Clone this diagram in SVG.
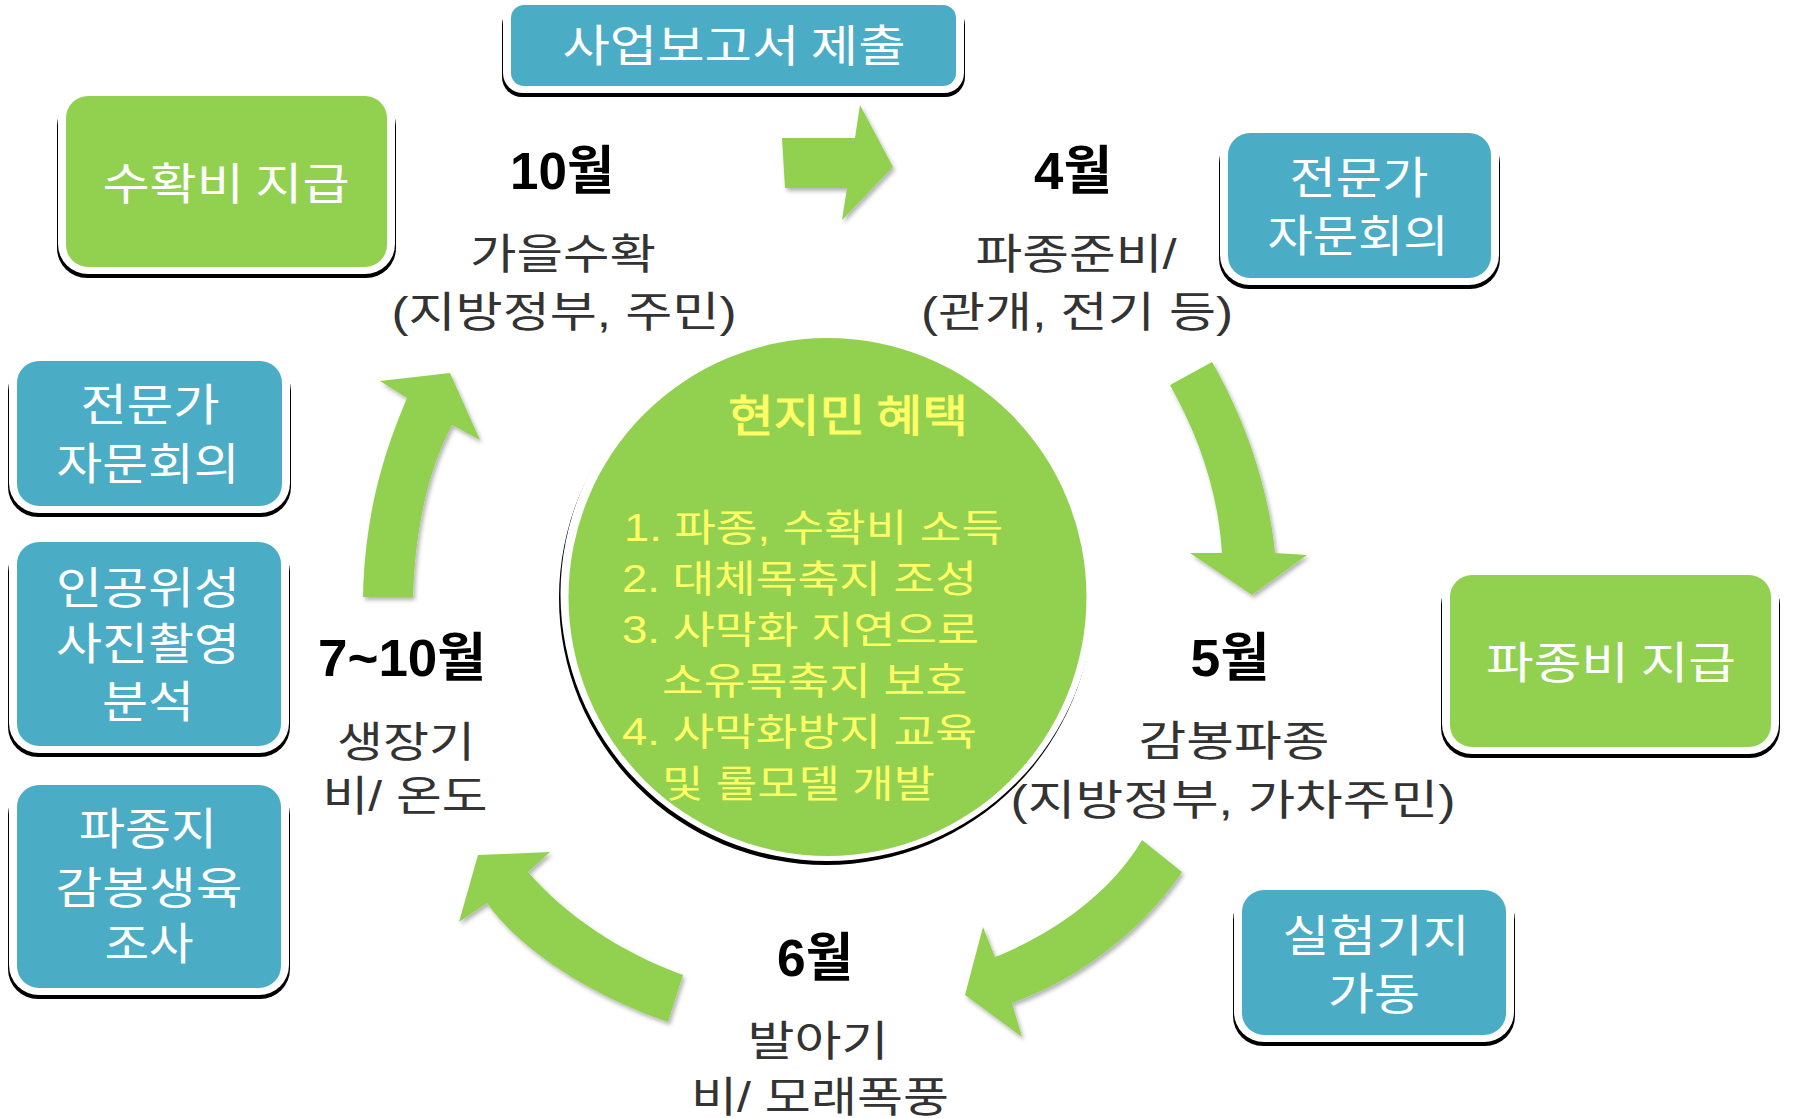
<svg xmlns="http://www.w3.org/2000/svg" width="1793" height="1118" viewBox="0 0 1793 1118">
<style>
.sh{fill:#000}
.rim{fill:#fff}
.blue{fill:#4BACC6}
.green{fill:#92D050}
.tb{font-family:"Noto Sans CJK KR","Noto Sans",sans-serif;font-size:44px;fill:#fff;text-anchor:middle}
.tm{font-family:"Liberation Sans","Noto Sans CJK KR",sans-serif;font-weight:bold;font-size:52px;fill:#000;text-anchor:middle}
.ts{font-family:"Liberation Sans","Noto Sans CJK KR",sans-serif;font-size:42px;fill:#333;text-anchor:middle}
.tt{font-family:"Noto Sans CJK KR",sans-serif;font-weight:normal;font-size:44px;fill:#FFFF66;stroke:#FFFF66;stroke-width:1;text-anchor:middle}
.tl{font-family:"Liberation Sans","Noto Sans CJK KR",sans-serif;font-size:38px;fill:#FFFF66}
.arrow{fill:#92D050;filter:url(#ds)}
</style>
<defs>
<filter id="ds" x="-20%" y="-20%" width="140%" height="140%">
<feDropShadow dx="2" dy="3" stdDeviation="2" flood-color="#000" flood-opacity="0.3"/>
</filter>
</defs>
<rect width="1793" height="1118" fill="#fff"/>

<g id="connectors">
<path class="arrow" d="M782,138 L855,138 L860,105 L893,167 L842,220 L847,188 L785,188 Z"/>
<path class="arrow" d="M1170,385 L1212,362 C1240,410 1268,480 1275,553 L1307,555 L1252,595 L1190,553 L1222,553 C1218,490 1198,435 1170,385 Z"/>
<path class="arrow" d="M1142,840 L1182,872 C1150,920 1090,975 1012,1003 L1022,1037 L965,995 L983,927 L995,957 C1050,935 1110,895 1142,840 Z"/>
<path class="arrow" d="M668,1022 L683,975 C620,952 565,915 528,872 L550,852 L478,855 L459,922 L487,903 C520,950 590,995 668,1022 Z"/>
<path class="arrow" d="M363,597 L413,597 C415,530 428,470 452,425 L480,440 L450,373 L380,381 L407,398 C385,450 365,510 363,597 Z"/>
</g>

<g id="center-benefits">
<circle class="sh" cx="826" cy="598" r="267"/>
<circle class="rim" cx="827.5" cy="594" r="267"/>
<circle class="green" cx="827.5" cy="597" r="259"/>
<text class="tt" x="848" y="432" textLength="240" lengthAdjust="spacingAndGlyphs">현지민 혜택</text>
<text class="tl" x="624" y="541" textLength="379" lengthAdjust="spacingAndGlyphs">1. 파종, 수확비 소득</text>
<text class="tl" x="622" y="592" textLength="355" lengthAdjust="spacingAndGlyphs">2. 대체목축지 조성</text>
<text class="tl" x="622" y="643" textLength="357" lengthAdjust="spacingAndGlyphs">3. 사막화 지연으로</text>
<text class="tl" x="662" y="694" textLength="305" lengthAdjust="spacingAndGlyphs">소유목축지 보호</text>
<text class="tl" x="622" y="745" textLength="355" lengthAdjust="spacingAndGlyphs">4. 사막화방지 교육</text>
<text class="tl" x="662" y="797" textLength="273" lengthAdjust="spacingAndGlyphs">및 롤모델 개발</text>
</g>

<g id="box-report">
<rect class="sh" x="502" y="5" width="463" height="92" rx="20"/>
<rect class="rim" x="503" y="-3" width="461" height="96" rx="20"/>
<rect class="blue" x="511" y="5" width="445" height="81" rx="13"/>
<text class="tb" x="734" y="62" textLength="343" lengthAdjust="spacingAndGlyphs">사업보고서 제출</text>
</g>

<g id="box-harvest-pay">
<rect class="sh" x="57" y="96" width="339" height="182" rx="30"/>
<rect class="rim" x="58" y="88" width="337" height="186" rx="30"/>
<rect class="green" x="66" y="96" width="321" height="171" rx="22"/>
<text class="tb" x="226" y="200" textLength="247" lengthAdjust="spacingAndGlyphs">수확비 지급</text>
</g>

<g id="box-expert-tr">
<rect class="sh" x="1219" y="133" width="281" height="156" rx="30"/>
<rect class="rim" x="1220" y="125" width="279" height="160" rx="30"/>
<rect class="blue" x="1228" y="133" width="263" height="145" rx="22"/>
<text class="tb" x="1359" y="194" textLength="139" lengthAdjust="spacingAndGlyphs">전문가</text>
<text class="tb" x="1358" y="252" textLength="181" lengthAdjust="spacingAndGlyphs">자문회의</text>
</g>

<g id="box-expert-l">
<rect class="sh" x="8" y="361" width="283" height="156" rx="30"/>
<rect class="rim" x="9" y="353" width="281" height="160" rx="30"/>
<rect class="blue" x="17" y="361" width="265" height="145" rx="22"/>
<text class="tb" x="150" y="421" textLength="139" lengthAdjust="spacingAndGlyphs">전문가</text>
<text class="tb" x="148" y="480" textLength="183" lengthAdjust="spacingAndGlyphs">자문회의</text>
</g>

<g id="box-satellite">
<rect class="sh" x="8" y="542" width="282" height="215" rx="30"/>
<rect class="rim" x="9" y="534" width="280" height="219" rx="30"/>
<rect class="blue" x="17" y="542" width="264" height="204" rx="22"/>
<text class="tb" x="148" y="604" textLength="184" lengthAdjust="spacingAndGlyphs">인공위성</text>
<text class="tb" x="148" y="660" textLength="184" lengthAdjust="spacingAndGlyphs">사진촬영</text>
<text class="tb" x="148" y="718" textLength="92" lengthAdjust="spacingAndGlyphs">분석</text>
</g>

<g id="box-survey">
<rect class="sh" x="8" y="785" width="282" height="214" rx="30"/>
<rect class="rim" x="9" y="777" width="280" height="218" rx="30"/>
<rect class="blue" x="17" y="785" width="264" height="203" rx="22"/>
<text class="tb" x="148" y="845" textLength="138" lengthAdjust="spacingAndGlyphs">파종지</text>
<text class="tb" x="149" y="904" textLength="187" lengthAdjust="spacingAndGlyphs">감봉생육</text>
<text class="tb" x="149" y="960" textLength="89" lengthAdjust="spacingAndGlyphs">조사</text>
</g>

<g id="box-sowing-pay">
<rect class="sh" x="1441" y="575" width="339" height="183" rx="30"/>
<rect class="rim" x="1442" y="567" width="337" height="187" rx="30"/>
<rect class="green" x="1450" y="575" width="321" height="172" rx="22"/>
<text class="tb" x="1611" y="679" textLength="250" lengthAdjust="spacingAndGlyphs">파종비 지급</text>
</g>

<g id="box-base">
<rect class="sh" x="1233" y="890" width="282" height="156" rx="30"/>
<rect class="rim" x="1234" y="882" width="280" height="160" rx="30"/>
<rect class="blue" x="1242" y="890" width="264" height="145" rx="22"/>
<text class="tb" x="1376" y="952" textLength="187" lengthAdjust="spacingAndGlyphs">실험기지</text>
<text class="tb" x="1374" y="1010" textLength="92" lengthAdjust="spacingAndGlyphs">가동</text>
</g>

<g id="stage-oct">
<text class="tm" x="562" y="189" textLength="104" lengthAdjust="spacingAndGlyphs">10월</text>
<text class="ts" x="563" y="269" textLength="186" lengthAdjust="spacingAndGlyphs">가을수확</text>
<text class="ts" x="564" y="327" textLength="345" lengthAdjust="spacingAndGlyphs">(지방정부, 주민)</text>
</g>

<g id="stage-apr">
<text class="tm" x="1073" y="189" textLength="78" lengthAdjust="spacingAndGlyphs">4월</text>
<text class="ts" x="1076" y="269" textLength="201" lengthAdjust="spacingAndGlyphs">파종준비/</text>
<text class="ts" x="1077" y="327" textLength="312" lengthAdjust="spacingAndGlyphs">(관개, 전기 등)</text>
</g>

<g id="stage-may">
<text class="tm" x="1230" y="676" textLength="79" lengthAdjust="spacingAndGlyphs">5월</text>
<text class="ts" x="1234" y="756" textLength="191" lengthAdjust="spacingAndGlyphs">감봉파종</text>
<text class="ts" x="1233" y="815" textLength="445" lengthAdjust="spacingAndGlyphs">(지방정부, 가차주민)</text>
</g>

<g id="stage-jun">
<text class="tm" x="815" y="976" textLength="76" lengthAdjust="spacingAndGlyphs">6월</text>
<text class="ts" x="818" y="1056" textLength="141" lengthAdjust="spacingAndGlyphs">발아기</text>
<text class="ts" x="820" y="1112" textLength="258" lengthAdjust="spacingAndGlyphs">비/ 모래폭풍</text>
</g>

<g id="stage-jul-oct">
<text class="tm" x="402" y="676" textLength="168" lengthAdjust="spacingAndGlyphs">7~10월</text>
<text class="ts" x="406" y="757" textLength="138" lengthAdjust="spacingAndGlyphs">생장기</text>
<text class="ts" x="405" y="811" textLength="165" lengthAdjust="spacingAndGlyphs">비/ 온도</text>
</g>
</svg>
